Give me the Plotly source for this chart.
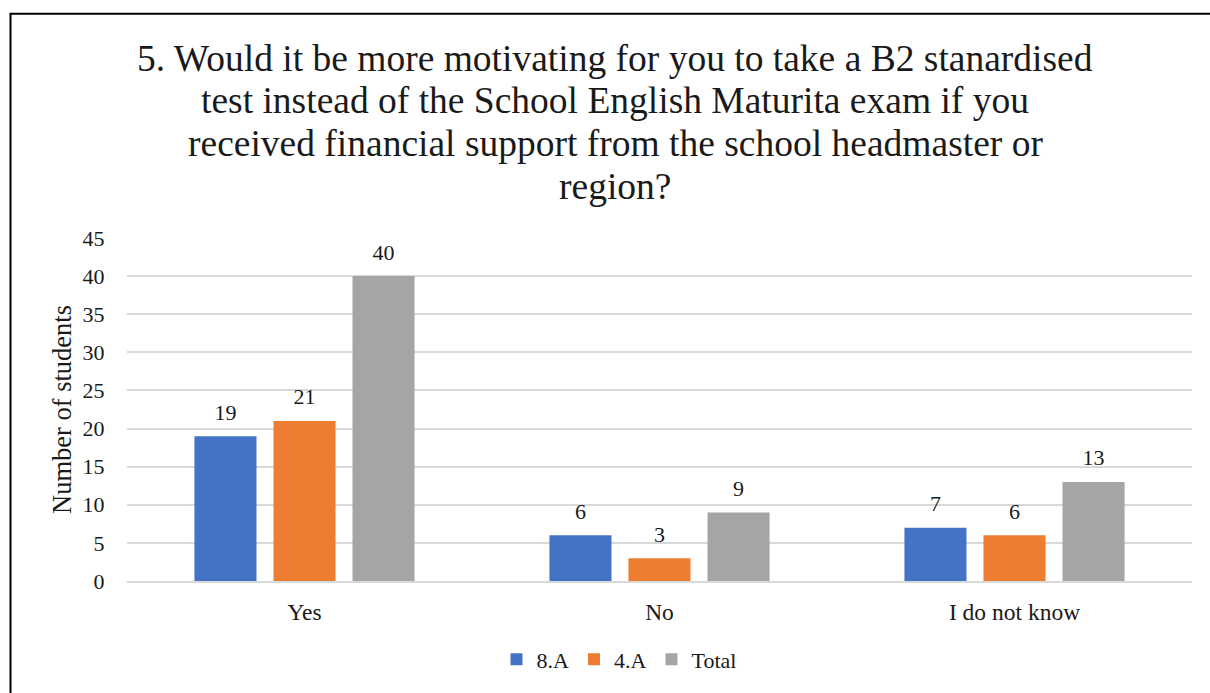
import plotly.graph_objects as go

categories = ["Yes", "No", "I do not know"]
class_8a = [19, 6, 7]
class_4a = [21, 3, 6]
total = [40, 9, 13]

series_names = ["8.A", "4.A", "Total"]
series_colors = ["#4472C4", "#ED7D31", "#A5A5A5"]
y_ticks = [0, 5, 10, 15, 20, 25, 30, 35, 40, 45]

title_lines = [
    "5. Would it be more motivating for you to take a B2 stanardised",
    "test instead of the School English Maturita exam if you",
    "received financial support from the school headmaster or",
    "region?",
]

FONT = "Liberation Serif, Times New Roman, serif"
TEXT_COLOR = "#1a1a1a"
BARGAP = 0.332

# plot area in pixels (used to place the title lines and frame in paper units)
PLOT_TOP, PLOT_BOTTOM, PLOT_LEFT, PLOT_RIGHT = 238, 583, 127, 1192
PLOT_H = PLOT_BOTTOM - PLOT_TOP
PLOT_W = PLOT_RIGHT - PLOT_LEFT


def py(pixel_y):
    return (PLOT_BOTTOM - pixel_y) / PLOT_H


def px(pixel_x):
    return (pixel_x - PLOT_LEFT) / PLOT_W


fig = go.Figure()
all_values = [class_8a, class_4a, total]
for name, values, color in zip(series_names, all_values, series_colors):
    fig.add_trace(go.Bar(
        name=name, x=categories, y=values,
        marker=dict(color=color, line=dict(width=0)),
        offsetgroup=name, hoverinfo="x+y",
    ))

# value labels above each bar, grouped the same way as the bars
for name, values in zip(series_names, all_values):
    fig.add_trace(go.Scatter(
        x=categories, y=values, mode="markers+text",
        text=[str(v) for v in values], textposition="top center",
        textfont=dict(family=FONT, size=22, color=TEXT_COLOR),
        marker=dict(size=16, opacity=0), offsetgroup=name,
        showlegend=False, hoverinfo="skip", cliponaxis=False,
    ))

annotations = [dict(text="Number of students", textangle=-90, xref="paper", yref="paper",
                    x=px(62), y=py(411), xanchor="center", yanchor="middle", showarrow=False,
                    font=dict(family=FONT, size=26.5, color=TEXT_COLOR))]
for line, center_y in zip(title_lines, [57, 100, 143, 186]):
    annotations.append(dict(text=line, xref="paper", yref="paper", x=px(615), y=py(center_y),
                            xanchor="center", yanchor="middle", showarrow=False,
                            font=dict(family=FONT, size=37.5, color=TEXT_COLOR)))

fig.update_layout(
    width=1210, height=693,
    margin=dict(l=PLOT_LEFT, r=1210 - PLOT_RIGHT, t=PLOT_TOP, b=693 - PLOT_BOTTOM),
    paper_bgcolor="white", plot_bgcolor="white",
    barmode="group", bargap=BARGAP, bargroupgap=0.215,
    scattermode="group", scattergap=BARGAP,
    font=dict(family=FONT, color=TEXT_COLOR),
    showlegend=True,
    legend=dict(orientation="h", x=px(619), xanchor="center", y=py(662), yanchor="middle",
                font=dict(family=FONT, size=22, color=TEXT_COLOR),
                itemwidth=30, traceorder="normal"),
    xaxis=dict(showgrid=False, showline=True, linecolor="#D9D9D9", linewidth=1.5,
               ticks="outside", ticklen=9, tickcolor="rgba(0,0,0,0)",
               tickfont=dict(family=FONT, size=23.5, color=TEXT_COLOR)),
    yaxis=dict(range=[0, 45], tickvals=y_ticks, showgrid=True, gridcolor="#D9D9D9",
               gridwidth=1.5, zeroline=False, showline=False,
               ticks="outside", ticklen=17, tickcolor="rgba(0,0,0,0)",
               tickfont=dict(family=FONT, size=22, color=TEXT_COLOR)),
    annotations=annotations,
    shapes=[dict(type="rect", xref="paper", yref="paper", x0=px(10.5), x1=1.5, y0=-1.0, y1=py(12.5),
                 line=dict(color="#000000", width=2), fillcolor="rgba(0,0,0,0)", layer="above")],
)

fig.write_html("out.html")
